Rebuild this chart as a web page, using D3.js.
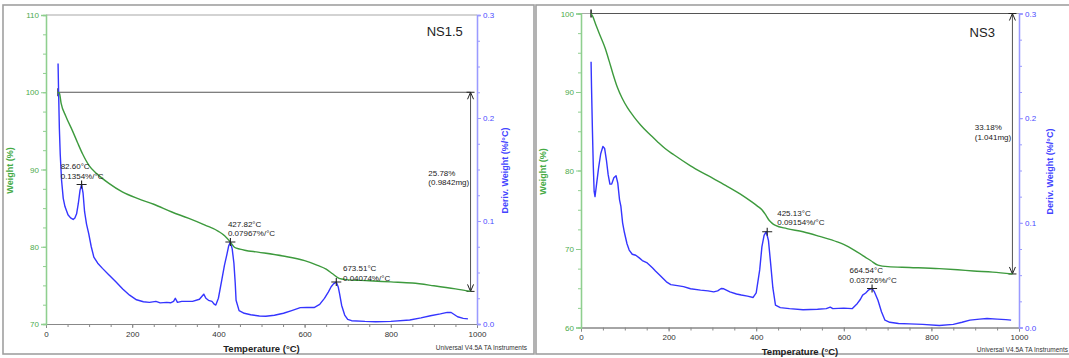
<!DOCTYPE html>
<html><head><meta charset="utf-8">
<script src="https://cdn.jsdelivr.net/npm/d3@7"></script>
<style>body{margin:0;background:#fff}svg{display:block}text{font-family:"Liberation Sans",Arial,sans-serif}</style>
</head><body><svg id="c" width="1069" height="358"></svg>
<script>
// ---------- data ----------
const tempTicks = [0, 200, 400, 600, 800, 1000];
const tempMinorTicks = d3.range(0, 1001, 50);
const ns15WeightTicks = [70, 80, 90, 100, 110];
const ns3WeightTicks = [60, 70, 80, 90, 100];
const derivTicks = [0.0, 0.1, 0.2, 0.3];

// [temperature °C, weight %]
const ns15Weight = [[27,100.0],[31,99.9],[35,98.6],[46,96.9],[61.5,95.0],[73,93.5],[85,92.0],[100,90.5],[119,89.4],[146,88.2],[177,87.1],[215,86.2],[250,85.5],[292,84.5],[330,83.7],[369,82.8],[400,82.0],[415,81.4],[428,80.6],[438,79.9],[450,79.7],[461,79.55],[492,79.3],[550,78.8],[600,78.2],[630,77.6],[650,77.1],[665,76.5],[680,75.9],[695,75.75],[750,75.6],[800,75.45],[850,75.3],[900,74.95],[950,74.55],[985,74.22]];
// [temperature °C, deriv. weight %/°C]
const ns15Deriv = [[28,0.253],[29,0.23],[31,0.19],[33,0.165],[36,0.14],[40,0.122],[44,0.114],[51,0.106],[57,0.103],[63,0.1015],[67,0.103],[71,0.107],[75,0.117],[79,0.130],[82.6,0.1354],[86,0.127],[89.5,0.109],[94,0.097],[99,0.088],[105,0.075],[111,0.065],[120,0.059],[131,0.054],[145,0.048],[162,0.041],[178,0.034],[194,0.028],[210,0.0235],[226,0.0216],[240,0.021],[255,0.022],[265,0.0205],[280,0.021],[289,0.0206],[296,0.022],[300,0.025],[305,0.021],[315,0.022],[325,0.022],[340,0.022],[356,0.024],[362,0.027],[366,0.029],[371,0.025],[377,0.023],[385,0.022],[391,0.019],[394,0.0184],[400,0.025],[408,0.043],[414,0.057],[420,0.068],[424,0.076],[427.8,0.0797],[432,0.073],[436,0.059],[439,0.040],[441,0.023],[448,0.013],[460,0.0104],[475,0.009],[495,0.0078],[510,0.0075],[530,0.0085],[551,0.0104],[570,0.013],[590,0.0159],[605,0.016],[622,0.016],[635,0.019],[646,0.0249],[655,0.031],[661.6,0.0362],[667,0.039],[673.5,0.0407],[678,0.036],[681,0.0297],[686,0.018],[693,0.0087],[700,0.0045],[709,0.0032],[740,0.0025],[765,0.0022],[800,0.0025],[844,0.0039],[870,0.006],[892,0.008],[915,0.0098],[931,0.0113],[940,0.0112],[955,0.007],[968,0.0055],[979,0.005]];

const ns3Weight = [[23,100.0],[27,99.6],[35,98.4],[45,97.0],[55,95.6],[64,94.0],[73,92.3],[83,90.6],[94,89.2],[106,88.0],[120,86.9],[136,85.8],[155,84.7],[174,83.7],[192,82.8],[212,82.0],[250,80.6],[288,79.4],[330,78.1],[364,77.0],[390,76.0],[402,75.5],[413,75.0],[421,74.4],[429,73.7],[436,73.3],[444,73.0],[470,72.6],[507,72.2],[545,71.6],[585,70.9],[610,70.3],[631,69.6],[648,69.0],[662,68.5],[678,67.95],[701,67.75],[750,67.65],[818,67.5],[860,67.35],[896,67.2],[940,67.05],[985,66.82]];
const ns3Deriv = [[23,0.254],[24,0.23],[26,0.19],[28,0.155],[30,0.13],[32,0.125],[35,0.135],[40,0.152],[45,0.166],[50,0.173],[54,0.171],[58,0.16],[62,0.146],[66,0.137],[70,0.137],[75,0.143],[80,0.145],[84,0.138],[88,0.122],[91,0.116],[95,0.100],[99,0.091],[105,0.080],[110,0.074],[117,0.070],[125,0.069],[133,0.0665],[140,0.064],[150,0.062],[163,0.057],[170,0.054],[180,0.050],[195,0.0436],[205,0.041],[220,0.040],[234,0.039],[250,0.037],[273,0.0357],[290,0.035],[303,0.034],[312,0.035],[320,0.0373],[326,0.037],[340,0.034],[355,0.032],[366,0.031],[380,0.030],[393,0.0287],[400,0.033],[408,0.055],[413,0.077],[418,0.088],[423,0.0915],[428,0.083],[433,0.061],[438,0.038],[444,0.0213],[455,0.019],[476,0.018],[507,0.017],[540,0.0175],[560,0.018],[569,0.0195],[575,0.018],[600,0.0185],[619,0.018],[631,0.023],[638,0.027],[643,0.031],[650,0.033],[657,0.036],[664.5,0.0373],[670,0.034],[678,0.026],[686,0.015],[694,0.007],[705,0.005],[725,0.0038],[750,0.0035],[780,0.003],[818,0.0019],[850,0.003],[870,0.005],[888,0.007],[910,0.008],[927,0.0086],[950,0.008],[970,0.0075],[982,0.007]];

// peaks [temperature, deriv]
const ns15Peaks = [[82.60,0.1354],[427.82,0.07967],[673.51,0.04074]];
const ns3Peaks = [[425.13,0.09154],[664.54,0.03726]];
// annotations: [temperature, weight, line1, line2]
const ns15Labels = [[34,90.4,"82.60°C","0.1354%/°C"],[422,83.0,"427.82°C","0.07967%/°C"],[689,77.2,"673.51°C","0.04074%/°C"],[887,89.55,"25.78%","(0.9842mg)"]];
const ns3Labels = [[448,74.6,"425.13°C","0.09154%/°C"],[613,67.3,"664.54°C","0.03726%/°C"],[899,85.5,"33.18%","(1.041mg)"]];
// weight step: [startT, endT, startW, endW]
const ns15Step = [28, 985, 100, 74.22];
const ns3Step = [23, 985, 100, 66.82];

// ---------- layout ----------
const svg = d3.select("#c");
const GREEN = "#3d9a3d", BLUE = "#3535ff";
const panels = [
  {title:"NS1.5", frame:[3,5,534,354], px:[46,477], py:[15,324], wDomain:[70,110], wTicks:ns15WeightTicks,
   weight:ns15Weight, deriv:ns15Deriv, peaks:ns15Peaks, labels:ns15Labels, step:ns15Step, titleT:967, titleY:36,
   wLabelX:10, dLabelX:505, tempY:352, univY:350, univX:527},
  {title:"NS3", frame:[536,5,1080,354], px:[581,1019], py:[13.5,327.5], wDomain:[60,100], wTicks:ns3WeightTicks,
   weight:ns3Weight, deriv:ns3Deriv, peaks:ns3Peaks, labels:ns3Labels, step:ns3Step, titleT:945, titleY:37,
   wLabelX:543, dLabelX:1050, tempY:355, univY:352, univX:1068}
];

panels.forEach(p => {
  const g = svg.append("g");
  const [fx0, fy0, fx1, fy1] = p.frame;
  g.append("rect").attr("x", fx0).attr("y", fy0).attr("width", fx1 - fx0).attr("height", fy1 - fy0)
    .attr("fill", "none").attr("stroke", "#a0a0a0").attr("stroke-width", 1.6);

  const x = d3.scaleLinear().domain([0, 1000]).range(p.px);
  const yW = d3.scaleLinear().domain(p.wDomain).range([p.py[1], p.py[0]]);
  const yD = d3.scaleLinear().domain([0, 0.3]).range([p.py[1], p.py[0]]);

  // top border
  g.append("line").attr("x1", p.px[0]).attr("x2", p.px[1]).attr("y1", p.py[0]).attr("y2", p.py[0])
    .attr("stroke", "#a8a8a8").attr("stroke-width", 1.2);

  // bottom axis
  const xMinor = g.append("g").attr("transform", `translate(0,${p.py[1]})`)
    .call(d3.axisBottom(x).tickValues(tempMinorTicks).tickSize(3).tickFormat(""));
  const xMajor = g.append("g").attr("transform", `translate(0,${p.py[1]})`)
    .call(d3.axisBottom(x).tickValues(tempTicks).tickSize(4).tickPadding(3).tickFormat(d3.format("d")));
  [xMinor, xMajor].forEach(a => { a.select(".domain").attr("stroke", "#888"); a.selectAll(".tick line").attr("stroke", "#888"); });
  xMajor.selectAll("text").attr("fill", "#333").style("font-size", "8px").style("font-family", "Liberation Sans, Arial");

  // left weight axis
  const wMinor = d3.range(p.wDomain[0], p.wDomain[1] + 0.01, 2.5);
  const yl1 = g.append("g").attr("transform", `translate(${p.px[0]},0)`)
    .call(d3.axisLeft(yW).tickValues(wMinor).tickSize(3).tickFormat(""));
  const yl2 = g.append("g").attr("transform", `translate(${p.px[0]},0)`)
    .call(d3.axisLeft(yW).tickValues(p.wTicks).tickSize(5).tickPadding(2).tickFormat(d3.format("d")));
  [yl1, yl2].forEach(a => { a.select(".domain").attr("stroke", "#8fcf8f").attr("stroke-width", 1.3); a.selectAll(".tick line").attr("stroke", "#8fcf8f"); });
  yl2.selectAll("text").attr("fill", "#4caa4c").style("font-size", "8px").style("font-family", "Liberation Sans, Arial");

  // right deriv axis
  const dMinor = d3.range(0, 0.3001, 0.025);
  const yr1 = g.append("g").attr("transform", `translate(${p.px[1]},0)`)
    .call(d3.axisRight(yD).tickValues(dMinor).tickSize(3).tickFormat(""));
  const yr2 = g.append("g").attr("transform", `translate(${p.px[1]},0)`)
    .call(d3.axisRight(yD).tickValues(derivTicks).tickSize(4).tickPadding(2).tickFormat(d3.format(".1f")));
  [yr1, yr2].forEach(a => { a.select(".domain").attr("stroke", "#9a9aff").attr("stroke-width", 1.3); a.selectAll(".tick line").attr("stroke", "#9a9aff"); });
  yr2.selectAll("text").attr("fill", "#4a4aff").style("font-size", "8px").style("font-family", "Liberation Sans, Arial");

  // axis titles
  g.append("text").attr("transform", `translate(${p.wLabelX},${(p.py[0]+p.py[1])/2 + 1}) rotate(-90)`)
    .attr("text-anchor", "middle").attr("dy", "0.35em").attr("fill", "#44aa44")
    .style("font-size", "9px").style("font-weight", "bold").text("Weight (%)");
  g.append("text").attr("transform", `translate(${p.dLabelX},${(p.py[0]+p.py[1])/2 + 1}) rotate(-90)`)
    .attr("text-anchor", "middle").attr("dy", "0.35em").attr("fill", "#4444ff")
    .style("font-size", "9px").style("font-weight", "bold").text("Deriv. Weight (%/°C)");
  g.append("text").attr("x", (p.px[0]+p.px[1])/2).attr("y", p.tempY).attr("text-anchor", "middle")
    .attr("fill", "#222").style("font-size", "9.5px").style("font-weight", "bold").text("Temperature (°C)");
  g.append("text").attr("x", p.univX).attr("y", p.univY).attr("text-anchor", "end")
    .attr("fill", "#333").style("font-size", "6.5px").text("Universal V4.5A TA Instruments");
  g.append("text").attr("x", x(p.titleT)).attr("y", p.titleY).attr("text-anchor", "end")
    .attr("fill", "#222").style("font-size", "13px").text(p.title);

  // step annotation
  const [s0, s1, w0, w1] = p.step;
  const stepC = "#555";
  g.append("line").attr("x1", x(s0)).attr("x2", x(s1)).attr("y1", yW(w0)).attr("y2", yW(w0)).attr("stroke", stepC).attr("stroke-width", 1);
  g.append("line").attr("x1", x(s0)).attr("x2", x(s0)).attr("y1", yW(w0) - 4).attr("y2", yW(w0) + 4).attr("stroke", "#222").attr("stroke-width", 1.5);
  g.append("line").attr("x1", x(s1)).attr("x2", x(s1)).attr("y1", yW(w0)).attr("y2", yW(w1)).attr("stroke", stepC).attr("stroke-width", 1);
  g.append("line").attr("x1", x(s1) - 4).attr("x2", x(s1) + 4).attr("y1", yW(w1)).attr("y2", yW(w1)).attr("stroke", "#222").attr("stroke-width", 1);
  g.append("line").attr("x1", x(s1) - 4).attr("x2", x(s1) + 4).attr("y1", yW(w0)).attr("y2", yW(w0)).attr("stroke", "#222").attr("stroke-width", 1);
  g.append("path").attr("d", `M${x(s1)-3},${yW(w0)+7}L${x(s1)},${yW(w0)}L${x(s1)+3},${yW(w0)+7}`).attr("fill", "none").attr("stroke", "#222");
  g.append("path").attr("d", `M${x(s1)-3},${yW(w1)-7}L${x(s1)},${yW(w1)}L${x(s1)+3},${yW(w1)-7}`).attr("fill", "none").attr("stroke", "#222");

  // curves
  g.append("path").datum(p.deriv).attr("fill", "none").attr("stroke", BLUE).attr("stroke-width", 1.4)
    .attr("stroke-linejoin", "round").attr("d", d3.line().x(d => x(d[0])).y(d => yD(d[1])));
  g.append("path").datum(p.weight).attr("fill", "none").attr("stroke", GREEN).attr("stroke-width", 1.4)
    .attr("stroke-linejoin", "round").attr("d", d3.line().curve(d3.curveMonotoneX).x(d => x(d[0])).y(d => yW(d[1])));

  // peak crosses
  p.peaks.forEach(pk => {
    const cx = x(pk[0]), cy = yD(pk[1]);
    g.append("path").attr("d", `M${cx-5},${cy}H${cx+5}M${cx},${cy-4}V${cy+4}`).attr("stroke", "#222").attr("stroke-width", 1.1);
  });
  // labels
  p.labels.forEach(l => {
    const t = g.append("text").attr("fill", "#222").style("font-size", "8px");
    t.append("tspan").attr("x", x(l[0])).attr("y", yW(l[1]) + 3).text(l[2]);
    t.append("tspan").attr("x", x(l[0])).attr("y", yW(l[1]) + 3 + 9.5).text(l[3]);
  });
});
</script></body></html>
